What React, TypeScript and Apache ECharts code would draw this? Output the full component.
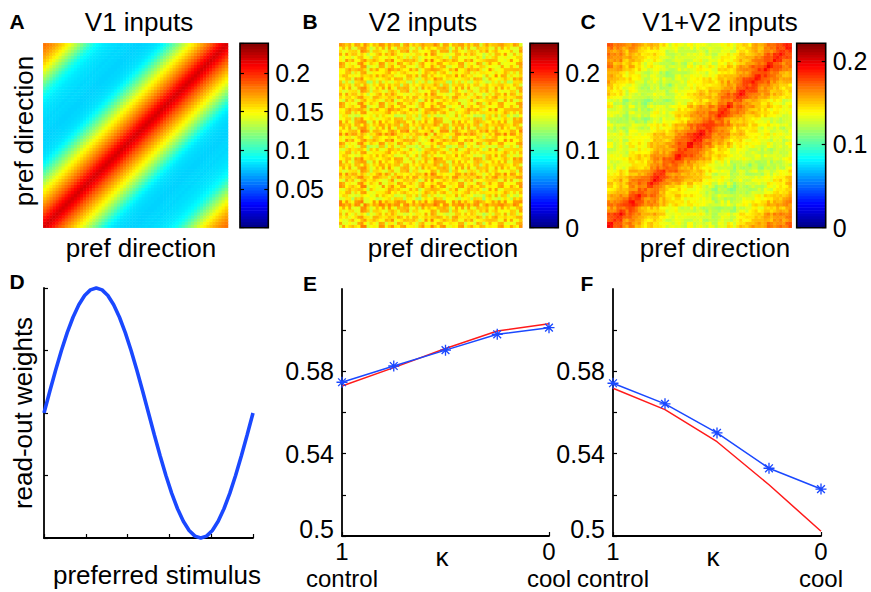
import React, { useEffect, useRef } from "react";
import * as echarts from "echarts";

const FONT = '"Liberation Sans", Arial, Helvetica, sans-serif';
const N = 60;
const CB_LEVELS = 64;
const JET = ["#000080", "#0000ff", "#0080ff", "#00ffff", "#80ff80", "#ffff00", "#ff8000", "#ff0000", "#800000"];

// Panel A: V1 input covariance, value by |i-j| (cells)
const aProfile = [
  0.218, 0.214, 0.209, 0.203, 0.196, 0.189, 0.183, 0.177, 0.171, 0.165,
  0.159, 0.153, 0.147, 0.141, 0.134, 0.127, 0.12, 0.113, 0.106, 0.099,
  0.093, 0.088, 0.085, 0.083, 0.082, 0.081, 0.08, 0.08, 0.079, 0.079,
  0.079, 0.08, 0.08, 0.081, 0.08, 0.081, 0.082, 0.082, 0.083, 0.084,
  0.085, 0.087, 0.089, 0.093, 0.098, 0.104, 0.111, 0.118, 0.125, 0.132,
  0.139, 0.146, 0.152, 0.158, 0.163, 0.168, 0.172, 0.176, 0.179, 0.182,
];

// Panel B: V2 inputs, near-uniform with row/column stripes
const bBase = 0.156;
const bDiag = 0.142;
const bStripe = [
  0.003, -0.002, 0.001, 0.004, -0.003, 0.001, 0.002, 0.007, 0.008, -0.007,
  -0.004, 0.001, -0.001, 0.003, 0.001, -0.002, 0.008, 0.006, -0.001, 0.002,
  -0.004, 0.001, 0.003, -0.001, 0.001, -0.003, -0.008, 0.001, 0.004, -0.001,
  0.009, 0.007, 0.001, -0.002, 0.003, -0.001, -0.007, 0.002, 0.004, -0.001,
  0.001, -0.003, 0.004, 0.001, -0.001, 0.002, -0.006, -0.008, 0.001, 0.003,
  -0.001, 0.004, -0.002, 0.001, 0.003, -0.004, 0.001, 0.002, -0.001, 0.002,
];
const bGrain = [0.012, -0.011, 0.004, -0.015, 0.008, -0.004, 0.013, -0.008, 0.001, -0.013, 0.009, -0.005, 0.006];

// Panel C: V1+V2 inputs
const cProfile = [
  0.184, 0.18, 0.176, 0.172, 0.168, 0.165, 0.162, 0.159, 0.156, 0.153,
  0.151, 0.149, 0.147, 0.145, 0.143, 0.141, 0.139, 0.137, 0.135, 0.134,
  0.133, 0.132, 0.131, 0.13, 0.129, 0.128, 0.128, 0.127, 0.127, 0.127,
  0.127, 0.127, 0.128, 0.128, 0.129, 0.13, 0.131, 0.132, 0.134, 0.136,
  0.138, 0.14, 0.142, 0.144, 0.146, 0.148, 0.15, 0.152, 0.154, 0.156,
  0.157, 0.158, 0.159, 0.16, 0.161, 0.162, 0.163, 0.164, 0.165, 0.166,
];
const cStripe = [
  0.003, 0.002, -0.002, 0.001, 0.004, -0.003, -0.006, 0.002, 0.003, -0.001,
  0.002, -0.004, -0.007, -0.005, 0.001, 0.003, 0.004, -0.002, 0.001, -0.006,
  -0.008, -0.004, 0.002, 0.003, -0.001, -0.003, 0.002, 0.004, 0.001, 0.005,
  0.006, 0.002, -0.002, 0.001, -0.004, -0.006, 0.001, 0.003, -0.002, 0.002,
  -0.005, -0.007, 0.001, 0.003, 0.002, -0.001, -0.004, 0.002, 0.003, 0.001,
  -0.003, 0.002, 0.004, -0.002, 0.001, 0.003, 0.002, -0.001, 0.002, 0.003,
];

const aMax = 0.2385;
const bMax = 0.238;
const cMax = 0.221;
const aTicks = [0.05, 0.1, 0.15, 0.2];
const bTicks = [0, 0.1, 0.2];
const cTicks = [0, 0.1, 0.2];

// Panel D: read-out weights vs preferred stimulus (deg)
const dAngle = [0, 10, 20, 30, 40, 50, 60, 70, 80, 90, 100, 110, 120, 130, 140, 150, 160, 170, 180,
  190, 200, 210, 220, 230, 240, 250, 260, 270, 280, 290, 300, 310, 320, 330, 340, 350, 360];
const dWeight = [0, 0.174, 0.342, 0.5, 0.643, 0.766, 0.866, 0.94, 0.985, 1, 0.985, 0.94, 0.866, 0.766,
  0.643, 0.5, 0.342, 0.174, 0, -0.174, -0.342, -0.5, -0.643, -0.766, -0.866, -0.94, -0.985, -1,
  -0.985, -0.94, -0.866, -0.766, -0.643, -0.5, -0.342, -0.174, 0];

// Panels E, F: kappa from 1 (control) to 0 (cool)
const kappa = [1, 0.75, 0.5, 0.25, 0];
const eBlue = [0.5747, 0.5826, 0.5903, 0.598, 0.6012];
const eRed = [0.5729, 0.5818, 0.5911, 0.5996, 0.6031];
const fBlue = [0.5742, 0.5642, 0.5501, 0.5329, 0.5228];
const fRed = [0.5718, 0.5614, 0.5458, 0.5249, 0.5023];
const lineTickLabels = [0.5, 0.54, 0.58];
const kappaEndLabels = ["1\ncontrol", "0\ncool"];

const BLUE = "#1a48ff";
const RED = "#ff1a1a";
const ASTERISK =
  "path://M0,4.4H10V5.6H0Z M4.4,0H5.6V10H4.4Z M1.05,1.9L1.9,1.05L8.95,8.1L8.1,8.95Z M8.1,1.05L8.95,1.9L1.9,8.95L1.05,8.1Z";

function grain(i: number, j: number) {
  return bGrain[(i * i + i * j + j * j + 5 * (i + j)) % bGrain.length];
}
function buildA() {
  const out: number[][] = [];
  for (let i = 0; i < N; i++) for (let j = 0; j < N; j++) out.push([j, i, aProfile[Math.abs(i - j)]]);
  return out;
}
function buildB() {
  const out: number[][] = [];
  for (let i = 0; i < N; i++)
    for (let j = 0; j < N; j++)
      out.push([j, i, i === j ? bDiag : bBase + bStripe[i] + bStripe[j] + grain(i, j)]);
  return out;
}
function buildC() {
  const out: number[][] = [];
  for (let i = 0; i < N; i++)
    for (let j = 0; j < N; j++)
      out.push([j, i, cProfile[Math.abs(i - j)] + cStripe[i] + cStripe[j] + 0.4 * grain(i, j)]);
  return out;
}
function buildBar(max: number) {
  const out: number[][] = [];
  for (let k = 0; k < CB_LEVELS; k++) out.push([0, k, ((k + 0.5) / CB_LEVELS) * max]);
  return out;
}

const idx = Array.from({ length: N }, (_, i) => String(i));
const lvl = Array.from({ length: CB_LEVELS }, (_, i) => String(i));

const HM_TOP = 43.3;
const HM_H = 184.4;
const HEAT = [
  { left: 43.3, width: 184.7, cbLeft: 240, cbWidth: 28.3, max: aMax, ticks: aTicks, interval: 0.05, data: buildA },
  { left: 339.3, width: 183, cbLeft: 530, cbWidth: 28.3, max: bMax, ticks: bTicks, interval: 0.1, data: buildB },
  { left: 607.3, width: 184.4, cbLeft: 796.7, cbWidth: 29, max: cMax, ticks: cTicks, interval: 0.1, data: buildC },
];
const LINE_GRIDS = [
  { left: 44, top: 288, width: 209, height: 250 },
  { left: 342, top: 289, width: 207, height: 250 },
  { left: 613, top: 289, width: 208, height: 250 },
];

function txt(text: string, x: number, y: number, size = 26, bold = false, rotation = 0, lineHeight?: number) {
  const style: any = {
    text,
    fill: "#000",
    font: `${bold ? "bold " : ""}${size}px ${FONT}`,
    align: "center",
    verticalAlign: "middle",
    textAlign: "center",
    textVerticalAlign: "middle",
  };
  if (lineHeight) style.lineHeight = lineHeight;
  return { type: "text", x, y, rotation, silent: true, z: 100, style };
}

function buildOption() {
  const grid: any[] = [];
  const xAxis: any[] = [];
  const yAxis: any[] = [];
  const series: any[] = [];
  const visualMap: any[] = [];
  const graphic: any[] = [];
  const axisLine = { show: true, onZero: false, lineStyle: { color: "#000", width: 1.8 } };
  const tick = { show: true, inside: true, length: 4, lineStyle: { color: "#000", width: 1.2 } };

  HEAT.forEach((h) => {
    const gHeat = grid.length;
    grid.push({ left: h.left, top: HM_TOP, width: h.width, height: HM_H });
    const gBar = grid.length;
    grid.push({ left: h.cbLeft, top: HM_TOP, width: h.cbWidth, height: HM_H });

    const xh = xAxis.length;
    xAxis.push({ type: "category", gridIndex: gHeat, data: idx, show: false });
    const xb = xAxis.length;
    xAxis.push({ type: "category", gridIndex: gBar, data: ["0"], show: false });
    const yh = yAxis.length;
    yAxis.push({ type: "category", gridIndex: gHeat, data: idx, show: false });
    const yb = yAxis.length;
    yAxis.push({ type: "category", gridIndex: gBar, data: lvl, show: false, position: "left" });
    yAxis.push({
      type: "value",
      gridIndex: gBar,
      position: "right",
      min: 0,
      max: h.max,
      interval: h.interval,
      z: 10,
      axisLine: { show: false },
      splitLine: { show: false },
      axisTick: tick,
      axisLabel: {
        show: true,
        margin: 7,
        fontSize: 25,
        fontFamily: FONT,
        color: "#000",
        showMaxLabel: false,
        formatter: (v: number) => {
          const t = h.ticks.find((tt) => Math.abs(tt - v) < 1e-6);
          return t === undefined ? "" : String(t);
        },
      },
    });
    yAxis.push({
      type: "value",
      gridIndex: gBar,
      position: "left",
      min: 0,
      max: h.max,
      interval: h.interval,
      z: 10,
      axisLine: { show: false },
      splitLine: { show: false },
      axisTick: tick,
      axisLabel: { show: false },
    });

    const sHeat = series.length;
    series.push({
      type: "heatmap",
      xAxisIndex: xh,
      yAxisIndex: yh,
      data: h.data(),
      progressive: 0,
      emphasis: { disabled: true },
      itemStyle: { borderWidth: 0 },
    });
    const sBar = series.length;
    series.push({
      type: "heatmap",
      xAxisIndex: xb,
      yAxisIndex: yb,
      data: buildBar(h.max),
      progressive: 0,
      emphasis: { disabled: true },
      itemStyle: { borderWidth: 0 },
    });
    visualMap.push({
      type: "continuous",
      show: false,
      min: 0,
      max: h.max,
      dimension: 2,
      seriesIndex: [sHeat, sBar],
      inRange: { color: JET },
    });
    graphic.push({
      type: "rect",
      silent: true,
      z: 100,
      shape: { x: h.cbLeft, y: HM_TOP, width: h.cbWidth, height: HM_H },
      style: { fill: "none", stroke: "#000", lineWidth: 1.6 },
    });
  });

  // Panel D
  const gD = grid.length;
  grid.push(LINE_GRIDS[0]);
  const xD = xAxis.length;
  xAxis.push({
    type: "value",
    gridIndex: gD,
    min: 0,
    max: 360,
    interval: 72,
    axisLine,
    axisTick: tick,
    axisLabel: { show: false },
    splitLine: { show: false },
  });
  const yD = yAxis.length;
  yAxis.push({
    type: "value",
    gridIndex: gD,
    min: -1,
    max: 1,
    interval: 0.5,
    axisLine,
    axisTick: tick,
    axisLabel: { show: false },
    splitLine: { show: false },
  });
  series.push({
    type: "line",
    xAxisIndex: xD,
    yAxisIndex: yD,
    data: dAngle.map((a, i) => [a, dWeight[i]]),
    symbol: "none",
    clip: false,
    lineStyle: { color: BLUE, width: 3.6 },
  });

  // Panels E, F
  const lineSets = [
    { g: LINE_GRIDS[1], blue: eBlue, red: eRed },
    { g: LINE_GRIDS[2], blue: fBlue, red: fRed },
  ];
  lineSets.forEach((ls) => {
    const gi = grid.length;
    grid.push(ls.g);
    const xi = xAxis.length;
    xAxis.push({
      type: "value",
      gridIndex: gi,
      min: 0,
      max: 1,
      interval: 1,
      inverse: true,
      axisLine,
      axisTick: tick,
      splitLine: { show: false },
      axisLabel: {
        show: true,
        margin: 2,
        fontSize: 24,
        lineHeight: 27,
        fontFamily: FONT,
        color: "#000",
        formatter: (v: number) => (v === 1 ? kappaEndLabels[0] : v === 0 ? kappaEndLabels[1] : ""),
      },
    });
    const yi = yAxis.length;
    yAxis.push({
      type: "value",
      gridIndex: gi,
      min: 0.5,
      max: 0.62,
      interval: 0.02,
      axisLine,
      axisTick: tick,
      splitLine: { show: false },
      axisLabel: {
        show: true,
        margin: 8,
        fontSize: 25,
        lineHeight: 20,
        fontFamily: FONT,
        color: "#000",
        showMaxLabel: false,
        formatter: (v: number) => {
          const t = lineTickLabels.find((tt) => Math.abs(tt - v) < 1e-6);
          if (t === undefined) return "";
          return t === 0.5 ? "{lo|0.5}" : String(t);
        },
        rich: { lo: { fontSize: 25, lineHeight: 20, fontFamily: FONT, color: "#000", padding: [0, 0, 14, 0] } },
      },
    });
    series.push({
      type: "line",
      xAxisIndex: xi,
      yAxisIndex: yi,
      data: kappa.map((k, i) => [k, ls.red[i]]),
      symbol: "none",
      clip: false,
      z: 2,
      lineStyle: { color: RED, width: 1.5 },
    });
    series.push({
      type: "line",
      xAxisIndex: xi,
      yAxisIndex: yi,
      data: kappa.map((k, i) => [k, ls.blue[i]]),
      symbol: ASTERISK,
      symbolSize: 11,
      clip: false,
      z: 3,
      itemStyle: { color: BLUE },
      lineStyle: { color: BLUE, width: 1.5 },
    });
  });

  graphic.push(
    txt("A", 17, 21.5, 21, true),
    txt("V1 inputs", 139, 22),
    txt("B", 310, 21.5, 21, true),
    txt("V2 inputs", 423, 22),
    txt("C", 588, 21.5, 21, true),
    txt("V1+V2 inputs", 720, 22),
    txt("pref direction", 24, 131, 26, false, Math.PI / 2),
    txt("pref direction", 141, 248),
    txt("pref direction", 443, 248),
    txt("pref direction", 715, 248),
    txt("D", 17, 281.5, 21, true),
    txt("read-out weights", 23, 413, 26, false, Math.PI / 2),
    txt("preferred stimulus", 157, 575),
    txt("E", 310, 283.5, 21, true),
    txt("κ", 442, 557, 26, false, 0, 18),
    txt("F", 587, 283.5, 21, true),
    txt("κ", 713, 557, 26, false, 0, 18)
  );

  return {
    animation: false,
    backgroundColor: "#ffffff",
    textStyle: { fontFamily: FONT },
    grid,
    xAxis,
    yAxis,
    visualMap,
    series,
    graphic,
  };
}

export default function App() {
  const ref = useRef<HTMLDivElement>(null);
  useEffect(() => {
    document.body.style.margin = "0";
    if (!ref.current) return;
    const chart = echarts.init(ref.current, undefined, { renderer: "svg" });
    chart.setOption(buildOption() as any);
    return () => chart.dispose();
  }, []);
  return <div ref={ref} style={{ width: 871, height: 592 }} />;
}
